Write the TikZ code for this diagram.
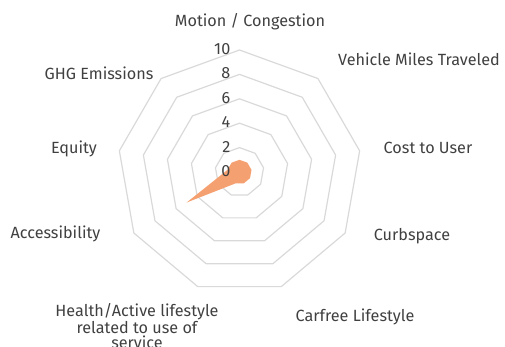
\documentclass[tikz,border=0pt]{standalone}
\usepackage{fontspec}
\setmainfont{Fira Sans}
\usetikzlibrary{positioning}
\definecolor{gridgray}{RGB}{217,217,217}
\definecolor{textgray}{RGB}{64,64,64}
\definecolor{spotorange}{RGB}{244,160,112}

\begin{document}
\begin{tikzpicture}[x=1pt, y=1pt, text=textgray, font=\fontsize{16.2}{14.4}\selectfont,
    ring/.style={draw=gridgray, line width=1.2pt, line join=round},
    axislabel/.style={inner sep=0pt, anchor=base},
    ticklabel/.style={inner sep=0pt, anchor=east}]

        \useasboundingbox (0,0) rectangle (505,346);

        \begin{scope}[shift={(239.5,174)}]
        % grid rings, 12.2 per unit
        \foreach \v in {2,4,6,8,10}
            \draw[ring] (90:\v*12.2) \foreach \a in {130,170,...,410} { -- (\a:\v*12.2) } -- cycle;

        % scores
        \fill[spotorange] (90:12.2) -- (130:12.2) -- (170:12.2) -- (210:61) -- (250:12.2)
            -- (290:12.2) -- (330:12.2) -- (10:12.2) -- (50:12.2) -- cycle;

        \node[ticklabel] (t0) at (-9,1) {0};
        \node[ticklabel] (t2) at (-9,25.4) {2};
        \node[ticklabel] (t4) at (-9,49.8) {4};
        \node[ticklabel] (t6) at (-9,74.2) {6};
        \node[ticklabel] (t8) at (-9,98.6) {8};
        \node[ticklabel] (t10) at (-9,123) {10};
        \end{scope}

        \node[axislabel] (Motion) at (250,319.4) {Motion / Congestion};
        \node[axislabel] (VMT) at (419,280.4) {Vehicle Miles Traveled};
        \node[axislabel] (Cost) at (428,192.1) {Cost to User};
        \node[axislabel] (Curb) at (412,105.4) {Curbspace};
        \node[axislabel] (Carfree) at (355,24.4) {Carfree Lifestyle};
        \node[inner sep=0pt, anchor=north, align=center, font=\fontsize{16.2}{15}\selectfont] (Health) at (137,42.5) {Health/Active lifestyle\\related to use of\\service};
        \node[axislabel] (Access) at (55.5,107.4) {Accessibility};
        \node[axislabel] (Equity) at (74,192.4) {Equity};
        \node[axislabel] (GHG) at (99,266.4) {GHG Emissions};
    \end{tikzpicture}
\end{document}
